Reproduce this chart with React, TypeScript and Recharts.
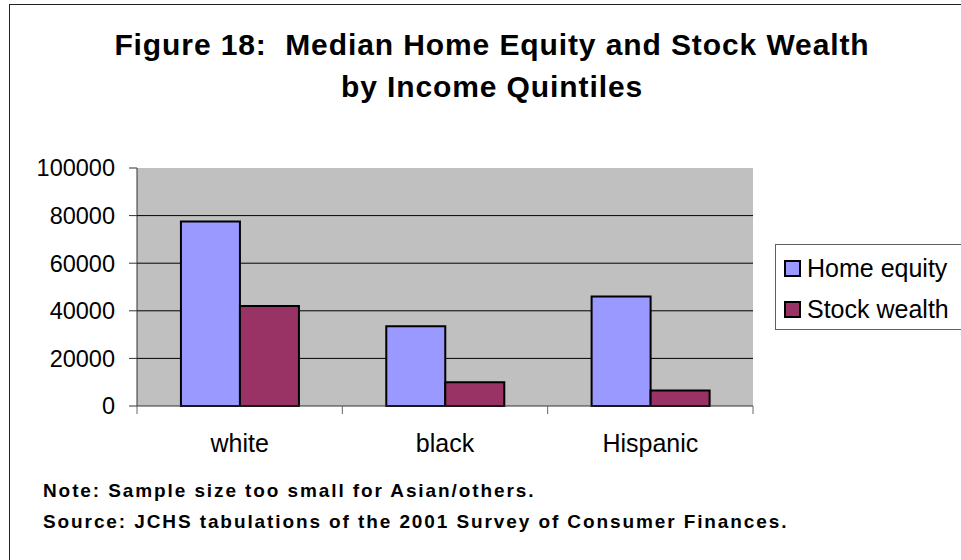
import { BarChart, Bar, XAxis, YAxis, CartesianGrid, Legend } from 'recharts';

const groups = ['white', 'black', 'Hispanic'];
const homeEquity = [77500, 33500, 46000];
const stockWealth = [42000, 10000, 6500];
const yTicks = [0, 20000, 40000, 60000, 80000, 100000];
const gridValues = [20000, 40000, 60000, 80000];
const seriesNames = ['Home equity', 'Stock wealth'];
const seriesColors = ['#9999FF', '#993366'];

const data = groups.map((name, i) => ({
  name,
  home: homeEquity[i],
  stock: stockWealth[i],
}));

const FONT = '"Liberation Sans", Arial, sans-serif';
const PLOT_W = 616;
const BAND = PLOT_W / groups.length;

const CatTick = (props: any) => {
  const { x, y, payload, index } = props;
  return (
    <g>
      <line x1={x - BAND / 2} x2={x - BAND / 2} y1={y - 8} y2={y} stroke="#666" />
      {index === groups.length - 1 && (
        <line x1={x + BAND / 2} x2={x + BAND / 2} y1={y - 8} y2={y} stroke="#666" />
      )}
      <text x={x} y={y + 38} textAnchor="middle" fontSize={25} fontFamily={FONT} fill="#000">
        {payload.value}
      </text>
    </g>
  );
};

const renderLegend = () => (
  <div
    style={{
      border: '1px solid #606060',
      width: 200,
      height: 86,
      boxSizing: 'border-box',
      background: '#fff',
      fontFamily: FONT,
      fontSize: 25,
      paddingTop: 3,
      paddingLeft: 8,
    }}
  >
    {seriesNames.map((s, i) => (
      <div key={s} style={{ display: 'flex', alignItems: 'center', height: 41 }}>
        <span
          style={{
            display: 'inline-block',
            width: 17,
            height: 17,
            background: seriesColors[i],
            border: '2px solid #000',
            boxSizing: 'border-box',
            marginRight: 6,
          }}
        />
        <span>{s}</span>
      </div>
    ))}
  </div>
);

export default function App() {
  return (
    <div
      style={{
        position: 'fixed',
        left: 0,
        top: 0,
        width: 961,
        height: 560,
        overflow: 'hidden',
        background: '#fff',
        fontFamily: FONT,
      }}
    >
      <div
        style={{
          position: 'absolute',
          left: 9,
          top: 4,
          width: 1000,
          height: 600,
          border: '1px solid #222',
        }}
      />
      <div
        style={{
          position: 'absolute',
          left: 0,
          width: 984,
          top: 24,
          textAlign: 'center',
          fontWeight: 'bold',
          fontSize: 30,
          letterSpacing: 0.9,
          lineHeight: '42px',
        }}
      >
        <div>Figure 18:&nbsp; Median Home Equity and Stock Wealth</div>
        <div>by Income Quintiles</div>
      </div>
      <div style={{ position: 'absolute', left: 0, top: 0 }}>
        <BarChart
          width={961}
          height={560}
          data={data}
          margin={{ top: 168, right: 208, bottom: 114, left: 0 }}
          barCategoryGap="21.4%"
          barGap={0}
        >
          <CartesianGrid
            fill="#C0C0C0"
            stroke="#000"
            vertical={false}
            horizontalValues={gridValues}
          />
          <XAxis
            dataKey="name"
            height={40}
            tickLine={false}
            tickSize={8}
            tickMargin={0}
            axisLine={{ stroke: '#333' }}
            tick={<CatTick />}
            interval={0}
          />
          <XAxis
            xAxisId="top"
            orientation="top"
            dataKey="name"
            height={0}
            tick={false}
            tickLine={false}
            axisLine={{ stroke: '#808080' }}
          />
          <YAxis
            width={137}
            domain={[0, 100000]}
            ticks={yTicks}
            tickSize={8}
            tickMargin={14}
            tickLine={{ stroke: '#333' }}
            axisLine={{ stroke: '#333' }}
            tick={{ fill: '#000', fontSize: 23.5, fontFamily: FONT }}
          />
          <YAxis
            yAxisId="right"
            orientation="right"
            width={0}
            tick={false}
            tickLine={false}
            axisLine={{ stroke: '#808080' }}
          />
          <Legend
            layout="horizontal"
            align="center"
            verticalAlign="middle"
            content={renderLegend}
            wrapperStyle={{ left: 775, top: 244, width: 200, height: 86 }}
          />
          <Bar
            dataKey="home"
            name={seriesNames[0]}
            fill={seriesColors[0]}
            stroke="#000"
            strokeWidth={2}
            isAnimationActive={false}
          />
          <Bar
            dataKey="stock"
            name={seriesNames[1]}
            fill={seriesColors[1]}
            stroke="#000"
            strokeWidth={2}
            isAnimationActive={false}
          />
        </BarChart>
      </div>
      <div
        style={{
          position: 'absolute',
          left: 43,
          top: 475,
          fontWeight: 'bold',
          fontSize: 19,
          lineHeight: '31px',
          letterSpacing: 1.9,
          whiteSpace: 'nowrap',
        }}
      >
        <div>Note: Sample size too small for Asian/others.</div>
        <div>Source: JCHS tabulations of the 2001 Survey of Consumer Finances.</div>
      </div>
    </div>
  );
}
